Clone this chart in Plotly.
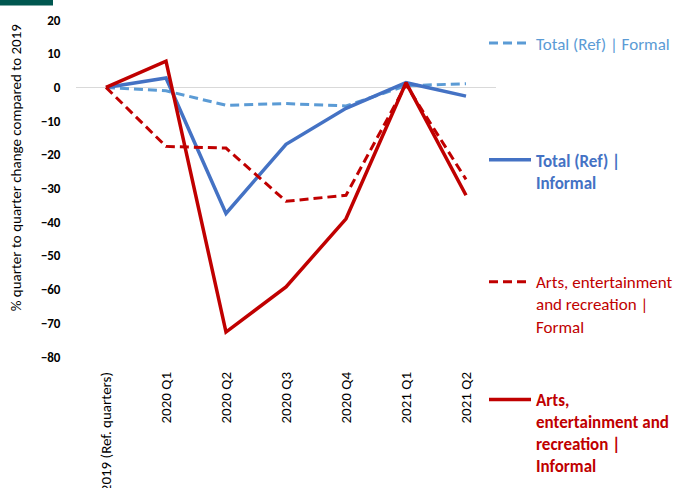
import plotly.graph_objects as go

categories = ["2019 (Ref. quarters)", "2020 Q1", "2020 Q2", "2020 Q3", "2020 Q4", "2021 Q1", "2021 Q2"]
total_formal = [0, -1.0, -5.3, -4.8, -5.5, 0.5, 1.1]
total_informal = [0, 2.8, -37.4, -16.9, -6.2, 1.4, -2.6]
arts_formal = [0, -17.5, -18.0, -33.8, -32.0, 0.8, -27.3]
arts_informal = [0, 7.8, -72.6, -59.2, -39.0, 1.4, -32.0]
y_ticks = [20, 10, 0, -10, -20, -30, -40, -50, -60, -70, -80]

LB = "#5B9BD5"
BL = "#4472C4"
RD = "#C00000"
FONT = "Carlito, Lato, 'Liberation Sans', sans-serif"

fig = go.Figure()
fig.add_trace(go.Scatter(x=categories, y=total_formal, mode="lines",
    line=dict(color=LB, width=3, dash="9px,5px"),
    name=f"<span style='color:{LB}'>Total (Ref) | Formal</span>", legend="legend"))
fig.add_trace(go.Scatter(x=categories, y=total_informal, mode="lines",
    line=dict(color=BL, width=3.5),
    name=f"<span style='color:{BL}'><b>Total (Ref) |<br>Informal</b></span>", legend="legend2"))
fig.add_trace(go.Scatter(x=categories, y=arts_formal, mode="lines",
    line=dict(color=RD, width=3, dash="9px,5px"),
    name=f"<span style='color:{RD}'>Arts, entertainment<br>and recreation |<br>Formal</span>", legend="legend3"))
fig.add_trace(go.Scatter(x=categories, y=arts_informal, mode="lines",
    line=dict(color=RD, width=3.5),
    name=f"<span style='color:{RD}'><b>Arts,<br>entertainment and<br>recreation |<br>Informal</b></span>", legend="legend4"))

# plot area: x 76..496, y 19.5..357
def py(p):
    return 1 - (p - 19.5) / 337.5
def px(p):
    return (p - 76) / 420

leg_common = dict(xanchor="left", yanchor="top", valign="top", bgcolor="rgba(0,0,0,0)",
                  font=dict(family=FONT, size=17), itemwidth=42, tracegroupgap=0)
fig.update_layout(
    legend=dict(x=px(484), y=py(25), **leg_common),
    legend2=dict(x=px(484), y=py(142), **leg_common),
    legend3=dict(x=px(484), y=py(264), **leg_common),
    legend4=dict(x=px(484), y=py(382), **leg_common),
)

fig.update_layout(
    width=675, height=488,
    margin=dict(l=76, r=179, t=19.5, b=131, autoexpand=False),
    paper_bgcolor="white", plot_bgcolor="white",
    font=dict(family=FONT, size=14, color="#000000"),
    showlegend=True,
    xaxis=dict(type="category", range=[-0.5, 6.5], tickangle=-90, showgrid=False, zeroline=False,
               showline=False, ticks="outside", ticklen=8, tickcolor="rgba(0,0,0,0)",
               automargin=False,
               tickfont=dict(family=FONT, size=15, color="#000000")),
    yaxis=dict(range=[-80, 20], tickvals=y_ticks, showgrid=False, zeroline=True,
               zerolinecolor="#D9D9D9", zerolinewidth=1, showline=False,
               ticks="outside", ticklen=12, tickcolor="rgba(0,0,0,0)", automargin=False,
               tickfont=dict(family=FONT, size=13, color="#000000", weight="bold")),
)

fig.add_annotation(text="% quarter to quarter change compared to 2019",
    xref="paper", yref="paper", x=px(16), y=py(167), textangle=-90,
    showarrow=False, font=dict(family=FONT, size=15, color="#000000"),
    xanchor="center", yanchor="middle")

fig.add_shape(type="rect", xref="paper", yref="paper",
    x0=px(0), x1=px(53), y0=py(5), y1=py(-2),
    fillcolor="#00574F", line=dict(width=0))

fig.write_html("out.html", config={"displayModeBar": False},
               post_script="document.body.style.margin='0';document.body.style.overflow='hidden';")
